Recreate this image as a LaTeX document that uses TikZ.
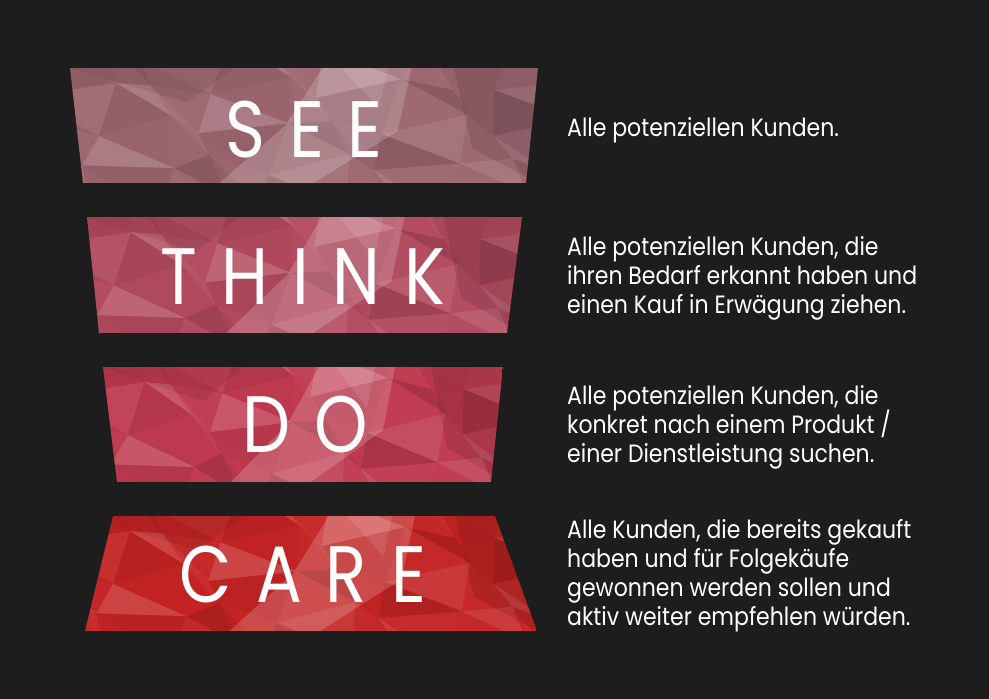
\documentclass[tikz,border=0pt]{standalone}
\usepackage{fontspec}
\newfontfamily\descfont[FakeStretch=0.88]{Poppins}
\newfontfamily\labelfont[FakeStretch=0.85,LetterSpace=30]{Poppins}
\newcommand\descsetup{\descfont\fontsize{25}{29}\selectfont\lineskiplimit=-100pt\relax\lineskip=0pt\relax}
\definecolor{bg}{HTML}{1D1D1D}
\definecolor{cSee}{HTML}{9C6670}
\definecolor{cThink}{HTML}{B24A5E}
\definecolor{cDo}{HTML}{BF3A50}
\definecolor{cCare}{HTML}{C42424}
\tikzset{
  declare function={jx(\a,\b)=18*sin(\a*137+\b*291); jy(\a,\b)=11*sin(\a*211+\b*97+30); sh(\a,\b,\c)=sin(\a*73+\b*151+\c*47)*cos(\a*29+\c*113+\b*61);},
  lbl/.style={text=white,font=\labelfont\fontsize{80}{80}\selectfont,inner sep=0pt,anchor=base},
  desc/.style={text=white,font=\descsetup,align=left,anchor=base west,inner sep=0pt},
}
\newcommand\polytex[4]{%
  \foreach \i in {0,...,8}{
    \foreach \j in {0,...,3}{
      \pgfmathsetmacro\xa{#1+#3*(\i-0.5)/8+jx(\i,\j)}
      \pgfmathsetmacro\ya{#2+#4*(\j-0.5)/3+jy(\i,\j)}
      \pgfmathsetmacro\xb{#1+#3*(\i+0.5)/8+jx(\i+1,\j)}
      \pgfmathsetmacro\yb{#2+#4*(\j-0.5)/3+jy(\i+1,\j)}
      \pgfmathsetmacro\xc{#1+#3*(\i-0.5)/8+jx(\i,\j+1)}
      \pgfmathsetmacro\yc{#2+#4*(\j+0.5)/3+jy(\i,\j+1)}
      \pgfmathsetmacro\xd{#1+#3*(\i+0.5)/8+jx(\i+1,\j+1)}
      \pgfmathsetmacro\yd{#2+#4*(\j+0.5)/3+jy(\i+1,\j+1)}
      \pgfmathsetmacro\sa{sh(\i,\j,1)}
      \pgfmathsetmacro\sb{sh(\i,\j,2)}
      \pgfmathsetmacro\wa{max(\sa,0)*0.16}
      \pgfmathsetmacro\ka{max(-\sa,0)*0.12}
      \pgfmathsetmacro\wb{max(\sb,0)*0.16}
      \pgfmathsetmacro\kb{max(-\sb,0)*0.12}
      \fill[white,fill opacity=\wa] (\xa,\ya)--(\xb,\yb)--(\xd,\yd)--cycle;
      \fill[black,fill opacity=\ka] (\xa,\ya)--(\xb,\yb)--(\xd,\yd)--cycle;
      \fill[white,fill opacity=\wb] (\xa,\ya)--(\xd,\yd)--(\xc,\yc)--cycle;
      \fill[black,fill opacity=\kb] (\xa,\ya)--(\xd,\yd)--(\xc,\yc)--cycle;
    }}
  \fill[white,fill opacity=0.18] (#1+0.54*#3,#2) -- (#1+0.73*#3,#2) -- (#1+0.70*#3,#2+0.55*#4) -- (#1+0.52*#3,#2+#4) -- (#1+0.32*#3,#2+#4) -- (#1+0.46*#3,#2+0.5*#4) -- cycle;
  \fill[white,fill opacity=0.10] (#1+0.58*#3,#2) -- (#1+0.68*#3,#2) -- (#1+0.66*#3,#2+0.35*#4) -- cycle;
  \fill[black,fill opacity=0.10] (#1+0.82*#3,#2) -- (#1+#3,#2) -- (#1+#3,#2+#4) -- (#1+0.86*#3,#2+0.7*#4) -- cycle;
  \fill[black,fill opacity=0.08] (#1,#2) -- (#1+0.35*#3,#2) -- (#1+0.25*#3,#2+0.3*#4) -- cycle;
}
\begin{document}
\begin{tikzpicture}[x={(1pt,0)},y={(0,-1pt)}]
\fill[bg] (0,0) rectangle (989,699);
\useasboundingbox (0,0) rectangle (989,699);
% SEE
\begin{scope}
\clip (70,68) -- (538,68) -- (526,183) -- (83,183) -- cycle;
\fill[cSee] (70,68) rectangle (538,183);
\polytex{70}{68}{468}{115}
\end{scope}
% THINK
\begin{scope}
\clip (87,217) -- (522,217) -- (507,333) -- (99,333) -- cycle;
\fill[cThink] (87,217) rectangle (522,333);
\polytex{87}{217}{435}{116}
\end{scope}
% DO
\begin{scope}
\clip (103,367) -- (503,367) -- (491,482) -- (117,482) -- cycle;
\fill[cDo] (103,367) rectangle (503,482);
\polytex{103}{367}{400}{115}
\end{scope}
% CARE
\begin{scope}
\clip (113,516) -- (495,516) -- (537,631) -- (85,631) -- cycle;
\fill[cCare] (85,516) rectangle (537,631);
\polytex{85}{516}{452}{115}
\end{scope}
\node[lbl] (see) at (304,157) {SEE};
\node[lbl] (think) at (303,304) {THINK};
\node[lbl] (do) at (305,452) {DO};
\node[lbl] (care) at (303,602) {CARE};
\node[desc] (dsee) at (567,136) {Alle potenziellen Kunden.};
\node[desc] (dthink) at (567,313) {Alle potenziellen Kunden, die\\ihren Bedarf erkannt haben und\\einen Kauf in Erwägung ziehen.};
\node[desc] (ddo) at (567,462) {Alle potenziellen Kunden, die\\konkret nach einem Produkt /\\einer Dienstleistung suchen.};
\node[desc] (dcare) at (567,625) {Alle Kunden, die bereits gekauft\\haben und für Folgekäufe\\gewonnen werden sollen und\\aktiv weiter empfehlen würden.};
\end{tikzpicture}
\end{document}
